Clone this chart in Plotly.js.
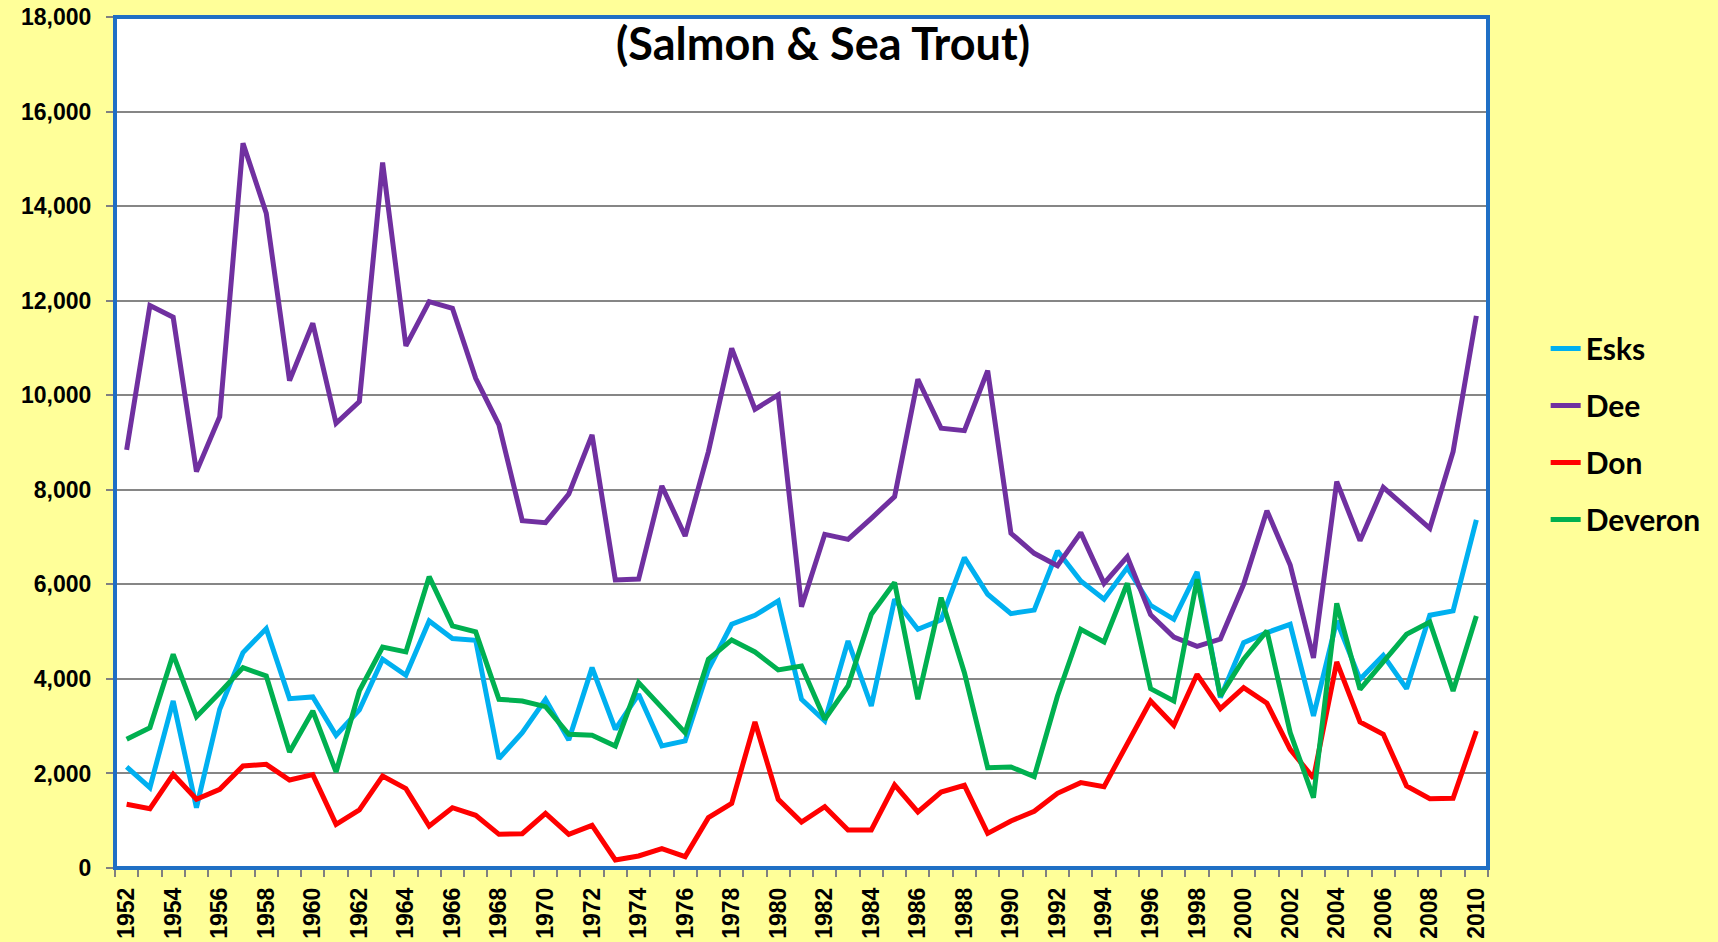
<!DOCTYPE html>
<html>
<head>
<meta charset="utf-8">
<script src="https://cdn.plot.ly/plotly-3.0.1.min.js"></script>
<style>
  html, body { margin: 0; padding: 0; background: #FFFF99; }
  #chart { width: 1718px; height: 942px; }
</style>
</head>
<body>
<div id="chart"></div>
<script>
const years = [1952,1953,1954,1955,1956,1957,1958,1959,1960,1961,1962,1963,1964,1965,1966,1967,1968,1969,1970,1971,
  1972,1973,1974,1975,1976,1977,1978,1979,1980,1981,1982,1983,1984,1985,1986,1987,1988,1989,1990,1991,
  1992,1993,1994,1995,1996,1997,1998,1999,2000,2001,2002,2003,2004,2005,2006,2007,2008,2009,2010];

const esks = [2137,1700,3533,1276,3357,4556,5063,3582,3618,2807,3343,4415,4076,5226,4852,4817,2313,2863,3568,2708,
  4238,2934,3674,2581,2687,4203,5155,5345,5649,3568,3110,4802,3427,5684,5049,5247,6565,5790,5381,5455,
  6706,6072,5684,6354,5557,5261,6262,3604,4767,4979,5155,3216,5226,3991,4499,3794,5345,5437,7362];

const dee = [8842,11896,11649,8384,9547,15330,13849,10309,11522,9406,9865,14921,11042,11980,11839,10358,9371,7347,7305,7911,
  9160,6092,6113,8081,7023,8807,10993,9703,10006,5524,7058,6952,7397,7855,10337,9301,9251,10521,7079,6656,
  6395,7093,6021,6586,5358,4886,4688,4843,6000,7559,6409,4442,8172,6924,8052,7629,7185,8807,11677];

const don = [1347,1255,1982,1453,1664,2158,2193,1862,1975,924,1227,1946,1678,889,1276,1114,712,726,1157,712,
  903,169,254,409,240,1065,1368,3089,1453,973,1298,804,804,1756,1185,1608,1749,733,994,1200,
  1580,1805,1721,2616,3533,3018,4097,3371,3815,3484,2511,1900,4358,3089,2828,1735,1467,1474,2898];

const deveron = [2722,2969,4520,3202,3709,4238,4062,2454,3321,2031,3745,4675,4570,6163,5120,4993,3568,3533,3413,2828,
  2807,2581,3921,3392,2863,4415,4824,4570,4189,4274,3145,3850,5367,6037,3568,5719,4132,2123,2137,1932,
  3639,5049,4781,6022,3794,3533,6107,3639,4415,5014,2863,1488,5599,3780,4344,4943,5204,3745,5331];

const seriesNames = ['Esks', 'Dee', 'Don', 'Deveron'];
const seriesColors = ['#00B0F0', '#7030A0', '#FF0000', '#00B050'];
const seriesValues = [esks, dee, don, deveron];

const xTickVals = [1952,1954,1956,1958,1960,1962,1964,1966,1968,1970,1972,1974,1976,1978,1980,
  1982,1984,1986,1988,1990,1992,1994,1996,1998,2000,2002,2004,2006,2008,2010];
const yTickVals = [0,2000,4000,6000,8000,10000,12000,14000,16000,18000];
const yTickText = ['0','2,000','4,000','6,000','8,000','10,000','12,000','14,000','16,000','18,000'];

const traces = seriesNames.map((name, i) => ({
  type: 'scatter',
  mode: 'lines',
  name: name,
  x: years,
  y: seriesValues[i],
  line: { color: seriesColors[i], width: 5 },
  legendgroup: name
}));

const tickFont = { family: 'Liberation Sans, Arial, sans-serif', size: 23, color: '#000000', weight: 700 };

const layout = {
  width: 1718,
  height: 942,
  paper_bgcolor: '#FFFF99',
  plot_bgcolor: '#FFFFFF',
  margin: { l: 115, r: 225, t: 17, b: 74, pad: 0 },
  showlegend: true,
  legend: {
    x: 1.042, xanchor: 'left',
    y: 0.51, yanchor: 'middle',
    traceorder: 'grouped',
    tracegroupgap: 15,
    bgcolor: 'rgba(0,0,0,0)',
    font: { family: 'Lato, Carlito, Calibri, sans-serif', size: 30, color: '#000000', weight: 700 }
  },
  xaxis: {
    type: 'linear',
    range: [1951.5, 2010.5],
    tickmode: 'array',
    tickvals: xTickVals,
    ticktext: xTickVals.map(String),
    tickangle: -90,
    ticks: '',
    ticklabelstandoff: 14,
    tickfont: tickFont,
    showgrid: false,
    zeroline: false,
    showline: false,
    minor: {
      tickmode: 'linear',
      tick0: 1951.5,
      dtick: 1,
      ticks: 'outside',
      ticklen: 8,
      tickwidth: 2,
      tickcolor: '#808080',
      showgrid: false
    },
    fixedrange: true
  },
  yaxis: {
    range: [0, 18000],
    tickmode: 'array',
    tickvals: yTickVals,
    ticktext: yTickText,
    ticks: 'outside',
    ticklen: 8,
    tickwidth: 2,
    tickcolor: '#808080',
    ticklabelstandoff: 10,
    tickfont: tickFont,
    showgrid: true,
    gridcolor: '#868686',
    gridwidth: 2,
    zeroline: false,
    showline: false,
    fixedrange: true
  },
  shapes: [{
    type: 'rect', xref: 'paper', yref: 'paper',
    x0: 0, x1: 1, y0: 0, y1: 1,
    line: { color: '#1F6FC5', width: 4 },
    fillcolor: 'rgba(0,0,0,0)',
    layer: 'above'
  }],
  annotations: [{
    xref: 'paper', yref: 'paper',
    x: 0.516, y: 0.969,
    xanchor: 'center', yanchor: 'middle',
    text: '(Salmon &amp; Sea Trout)',
    showarrow: false,
    font: { family: 'Lato, Carlito, Calibri, sans-serif', size: 45, color: '#000000', weight: 700 }
  }]
};

Plotly.newPlot('chart', traces, layout, { displayModeBar: false, staticPlot: true });
</script>
</body>
</html>
